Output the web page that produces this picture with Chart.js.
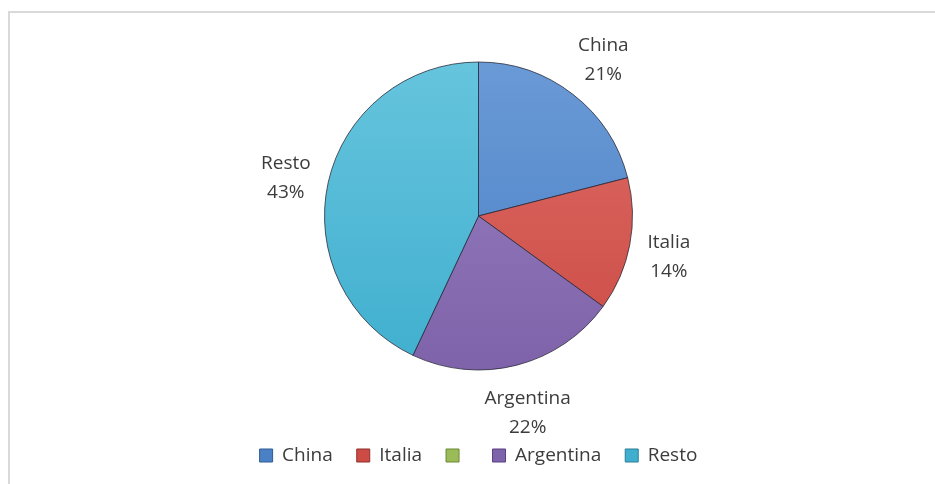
<!DOCTYPE html>
<html>
<head>
<meta charset="utf-8">
<script src="https://cdn.jsdelivr.net/npm/chart.js@4"></script>
<style>
    html, body { margin: 0; padding: 0; background: #ffffff; }
    #wrap { position: relative; width: 935px; height: 484px; }
</style>
</head>
<body>
<div id="wrap"><canvas id="pie" width="935" height="484"></canvas></div>
<script>

// data
const countries = ['China', 'Italia', '', 'Argentina', 'Resto'];
const shares = [21, 14, 0, 22, 43];

const baseColors = ['#4a80c6', '#cc4b45', '#9bbb59', '#7f63aa', '#40afcf'];
const topColors = ['#6a9ad6', '#de6c66', '#b0cc74', '#9880c2', '#66c4dd'];
const edgeColors = ['#2f5a94', '#8f2f2c', '#6b8a33', '#5a3f80', '#2b7f97'];

const PIE_RADIUS = 154;
const TEXT_COLOR = '#3c3c3c';
const FONT = '"Open Sans", sans-serif';
const LINE_GAP = 29;


// gradient fill for each slice, light at the top of the pie and darker below
function slice_fill(c) {
    const i = c.dataIndex;
    const area = c.chart.chartArea;
    if (!area || i === undefined) {
        return baseColors[i || 0];
    }
    const cy = (area.top + area.bottom) / 2;
    const g = c.chart.ctx.createLinearGradient(0, cy - PIE_RADIUS, 0, cy + PIE_RADIUS);
    g.addColorStop(0, topColors[i]);
    g.addColorStop(1, baseColors[i]);
    return g;
}


/*
   grey frame round the chart, only the left and top edges show
*/
const framePlugin = {
    id: 'frame',
    beforeDraw(chart) {
        const ctx = chart.ctx;
        ctx.save();
        ctx.strokeStyle = '#d9d9d9';
        ctx.lineWidth = 2;
        ctx.strokeRect(9, 12, chart.width + 20, chart.height + 20);
        ctx.restore();
    }
};


/*
   two line labels outside every slice : name and percent
   the label box is pushed out along the middle angle until it clears the pie
*/
const outsideLabels = {
    id: 'outsideLabels',
    afterDatasetsDraw(chart) {
        const ctx = chart.ctx;
        const meta = chart.getDatasetMeta(0);
        const total = shares.reduce((a, b) => a + b, 0);

        ctx.save();
        ctx.font = '19px ' + FONT;
        ctx.fillStyle = TEXT_COLOR;
        ctx.textAlign = 'center';
        ctx.textBaseline = 'middle';

        meta.data.forEach((arc, i) => {
            if (!shares[i]) return;
            const p = arc.getProps(['x', 'y', 'startAngle', 'endAngle', 'outerRadius'], true);
            const mid = (p.startAngle + p.endAngle) / 2;
            const pct = Math.round(shares[i] / total * 100) + '%';

            const halfW = Math.max(ctx.measureText(countries[i]).width, ctx.measureText(pct).width) / 2;
            const halfH = (LINE_GAP + 21) / 2;
            const cx = Math.abs(Math.cos(mid)), cy = Math.abs(Math.sin(mid));
            const edge = Math.min(cx > 0.001 ? halfW / cx : 1e9, cy > 0.001 ? halfH / cy : 1e9);
            const d = p.outerRadius + 18 + edge;

            const lx = p.x + Math.cos(mid) * d;
            const ly = p.y + Math.sin(mid) * d + 5;
            ctx.fillText(countries[i], lx, ly - LINE_GAP / 2);
            ctx.fillText(pct, lx, ly + LINE_GAP / 2);
        });
        ctx.restore();
    }
};


function build_pie_chart(ctx) {

    new Chart(ctx, {
        type: 'pie',
        data: {
            labels: countries,
            datasets: [{
                data: shares,
                backgroundColor: slice_fill,
                borderColor: 'rgba(35,35,50,0.75)',
                borderWidth: 1,
                radius: PIE_RADIUS
            }]
        },
        options: {
            responsive: false,
            animation: false,
            layout: {
                padding: { left: 22, right: 0, top: 10, bottom: 9 }
            },
            plugins: {
                legend: {
                    position: 'bottom',
                    labels: {
                        boxWidth: 13,
                        boxHeight: 13,
                        padding: 24,
                        color: TEXT_COLOR,
                        font: { family: FONT, size: 19 },
                        generateLabels(chart) {
                            const items = Chart.overrides.pie.plugins.legend.labels.generateLabels(chart);
                            items.forEach((it, i) => {
                                it.fillStyle = baseColors[i];
                                it.strokeStyle = edgeColors[i];
                                it.lineWidth = 1;
                                it.hidden = false;
                            });
                            return items;
                        }
                    }
                },
                tooltip: { enabled: false }
            }
        },
        plugins: [framePlugin, outsideLabels]
    });

}

build_pie_chart(document.getElementById('pie').getContext('2d'));
</script>
</body>
</html>
